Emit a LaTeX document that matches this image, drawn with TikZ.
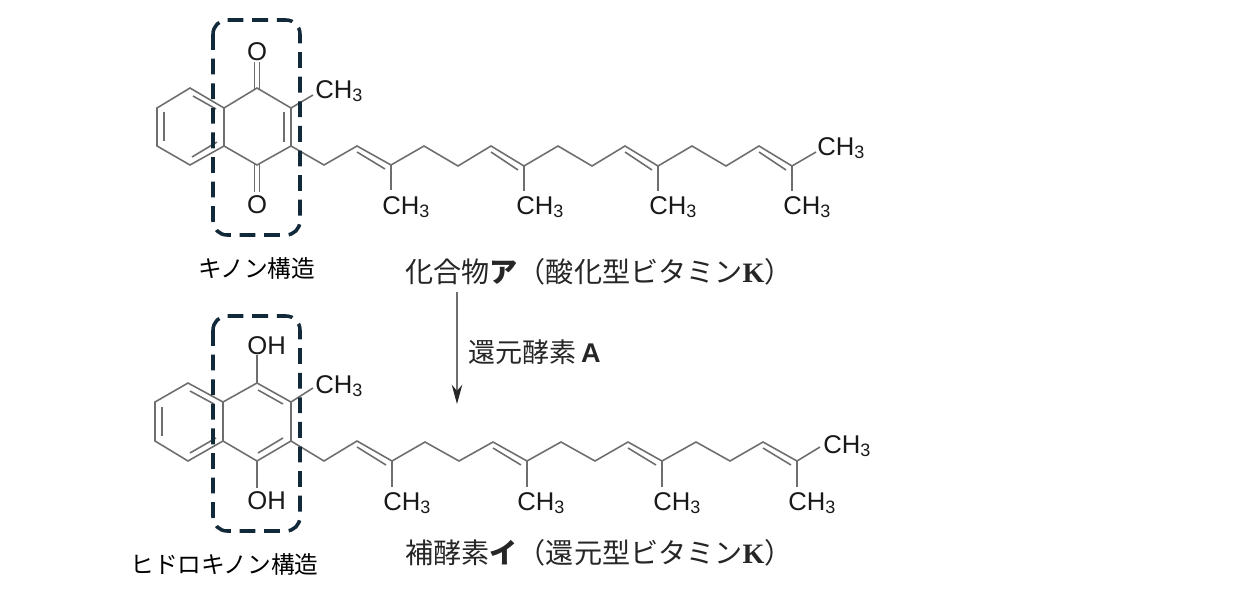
\documentclass[tikz,border=0pt]{standalone}
\usepackage{fontspec}
\setmainfont{Liberation Sans}
\newfontfamily\cjk{Noto Sans CJK JP}
\newfontfamily\kfont{Liberation Serif}
\usetikzlibrary{arrows.meta,calc}
\definecolor{bondgray}{HTML}{6E6E6E}
\definecolor{boxnavy}{HTML}{12293A}
\tikzset{
	bond/.style={line width=0.9pt, color=bondgray},
	atom/.style={anchor=base west, inner sep=0pt, font=\fontsize{14.6}{14.6}\selectfont, color=black!90},
	kana/.style={anchor=base west, inner sep=0pt, font=\fontsize{13.5}{13.5}\selectfont\cjk},
	title/.style={anchor=base west, inner sep=0pt, font=\fontsize{16}{16}\selectfont\cjk, color=black!85},
	regionbox/.style={line width=2pt, color=boxnavy, rounded corners=8pt, dash pattern=on 9pt off 5pt}
}
\def\dblbond(#1)(#2){\draw[bond] ($(#1)+(0,6)$) -- ($(#2)+(-6,4)$);}
\begin{document}
\begin{tikzpicture}[x=0.02cm, y=-0.02cm]
			%%%%% TOP %%%%%
			\useasboundingbox (0, 0) rectangle (1238, 612);
			
			\draw[bond] (190, 88) -- (157, 108) -- (157, 146) -- (190, 165) -- (224, 146) -- (224, 108) -- cycle;
			\draw[bond] (224, 108) -- (257, 88) -- (291, 108) -- (291, 146) -- (257, 165) -- (224, 146);
			\draw[bond] (193, 96) -- (216, 109);
			\draw[bond] (164, 112) -- (164, 141);
			\draw[bond] (192, 157) -- (217, 142);
			\draw[bond] (284, 112) -- (284, 142);
			\draw[bond] (254.5, 62) -- (254.5, 89);
			\draw[bond] (259.5, 62) -- (259.5, 89);
			\draw[bond] (254.5, 164) -- (254.5, 192);
			\draw[bond] (259.5, 164) -- (259.5, 192);
			\draw[bond] (291, 108) -- (313, 95);
			
			\coordinate (ta0) at (291, 146);
			\foreach \name/\x/\y in {a1/324/165, a2/357/146, a3/391/165, a4/424/146, a5/458/166, a6/491/146, a7/524/166, a8/558/146, a9/592/166, a10/625/146, a11/658/166, a12/692/146, a13/726/166, a14/759/146, a15/792/166}
				\coordinate (t\name) at (\x, \y);
			\draw[bond] (ta0) -- (ta1) -- (ta2) -- (ta3) -- (ta4) -- (ta5) -- (ta6) -- (ta7) -- (ta8) -- (ta9) -- (ta10) -- (ta11) -- (ta12) -- (ta13) -- (ta14) -- (ta15) -- (816, 152);
			\dblbond(ta2)(ta3)
			\dblbond(ta6)(ta7)
			\dblbond(ta10)(ta11)
			\dblbond(ta14)(ta15)
			\draw[bond] (ta3) -- (391, 190);
			\draw[bond] (ta7) -- (524, 191);
			\draw[bond] (ta11) -- (658, 191);
			\draw[bond] (ta15) -- (792, 191);
			
			\node[atom, anchor=base] (topO) at (257, 60) {O};
			\node[atom, anchor=base] (botO) at (257, 213) {O};
			\node[atom] (me0) at (315, 98) {CH\textsubscript{3}};
			\node[atom] (me1) at (382, 214) {CH\textsubscript{3}};
			\node[atom] (me2) at (516, 214) {CH\textsubscript{3}};
			\node[atom] (me3) at (649, 214) {CH\textsubscript{3}};
			\node[atom] (me4) at (783, 214) {CH\textsubscript{3}};
			\node[atom] (me5) at (817, 155) {CH\textsubscript{3}};
			
			\draw[regionbox] (213, 20) rectangle (300, 235);
			\node[kana] (quinone) at (198, 277) {キノン構造};
			\node[title] (oxidized) at (405, 282) {化合物{\bfseries ア}（酸化型ビタミン{\kfont\bfseries K}）};
			
			%%%%% ARROW %%%%%
			\coordinate (arrowtop) at (457, 292);
			\coordinate (arrowtip) at (457, 404);
			\draw[bond, -{Stealth[length=11pt, width=6pt, color=black!85]}] (arrowtop) -- (arrowtip);
			\node[title, font=\fontsize{15.4}{15.4}\selectfont\cjk] (enzyme) at (468, 362) {還元酵素\,{\rmfamily\bfseries A}};
			
			%%%%% BOTTOM %%%%%
			\draw[bond] (188, 383) -- (155, 402) -- (155, 441) -- (188, 461) -- (223, 441) -- (223, 402) -- cycle;
			\draw[bond] (223, 402) -- (257, 383) -- (291, 402) -- (291, 441) -- (257, 461) -- (223, 441);
			\draw[bond] (190, 391) -- (214, 404);
			\draw[bond] (162, 407) -- (162, 436);
			\draw[bond] (190, 453) -- (216, 438);
			\draw[bond] (258, 390) -- (283, 404);
			\draw[bond] (258, 453) -- (283, 438);
			\draw[bond] (257, 355) -- (257, 383);
			\draw[bond] (257, 461) -- (257, 488);
			\draw[bond] (291, 402) -- (313, 388);
			
			\coordinate (ba0) at (291, 441);
			\foreach \name/\x/\y in {a1/324/461, a2/357/441, a3/392/461, a4/425/442, a5/459/461, a6/493/442, a7/527/461, a8/561/442, a9/595/461, a10/628/442, a11/662/461, a12/696/442, a13/730/461, a14/763/442, a15/797/461}
				\coordinate (b\name) at (\x, \y);
			\draw[bond] (ba0) -- (ba1) -- (ba2) -- (ba3) -- (ba4) -- (ba5) -- (ba6) -- (ba7) -- (ba8) -- (ba9) -- (ba10) -- (ba11) -- (ba12) -- (ba13) -- (ba14) -- (ba15) -- (820, 447);
			\dblbond(ba2)(ba3)
			\dblbond(ba6)(ba7)
			\dblbond(ba10)(ba11)
			\dblbond(ba14)(ba15)
			\draw[bond] (ba3) -- (392, 487);
			\draw[bond] (ba7) -- (527, 487);
			\draw[bond] (ba11) -- (662, 487);
			\draw[bond] (ba15) -- (797, 487);
			
			\node[atom] (topOH) at (247, 354) {OH};
			\node[atom] (botOH) at (247, 509) {OH};
			\node[atom] (mh0) at (315, 393) {CH\textsubscript{3}};
			\node[atom] (mh1) at (383, 510) {CH\textsubscript{3}};
			\node[atom] (mh2) at (517, 510) {CH\textsubscript{3}};
			\node[atom] (mh3) at (653, 510) {CH\textsubscript{3}};
			\node[atom] (mh4) at (788, 510) {CH\textsubscript{3}};
			\node[atom] (mh5) at (823, 453) {CH\textsubscript{3}};
			
			\draw[regionbox] (213, 316) rectangle (300, 531);
			\node[kana] (hydroquinone) at (130, 573) {ヒドロキノン構造};
			\node[title] (reduced) at (405, 563) {補酵素{\bfseries イ}（還元型ビタミン{\kfont\bfseries K}）};
			
			%%%%% END %%%%%
\end{tikzpicture}
\end{document}
